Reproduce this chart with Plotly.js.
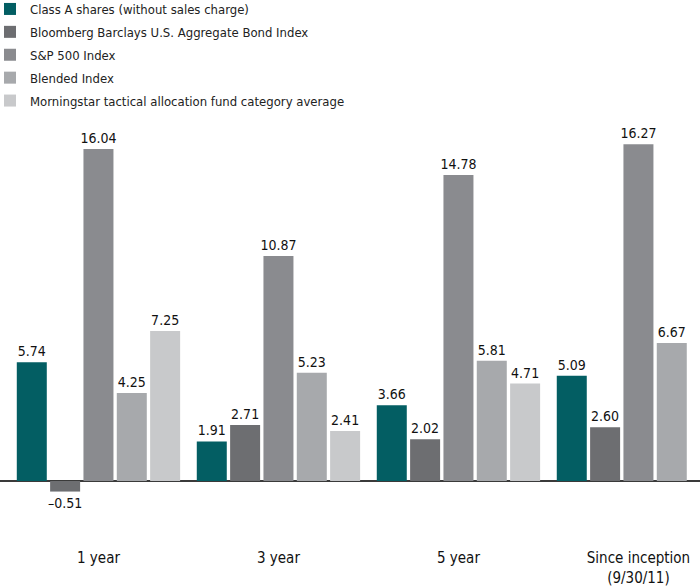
<!DOCTYPE html>
<html>
<head>
<meta charset="utf-8">
<script src="https://cdn.plot.ly/plotly-3.0.1.min.js"></script>
<style>html,body{margin:0;padding:0;background:#fff}#chart{width:700px;height:588px}</style>
</head>
<body>
<div id="chart"></div>
<script>
var categories = ['1 year', '3 year', '5 year', 'Since inception<br>(9/30/11)'];
var seriesNames = [
  'Class A shares (without sales charge)',
  'Bloomberg Barclays U.S. Aggregate Bond Index',
  'S&P 500 Index',
  'Blended Index',
  'Morningstar tactical allocation fund category average'
];
var classA     = [5.74, 1.91, 3.66, 5.09];
var bondIndex  = [-0.51, 2.71, 2.02, 2.60];
var sp500      = [16.04, 10.87, 14.78, 16.27];
var blended    = [4.25, 5.23, 5.81, 6.67];
var morningstar = [7.25, 2.41, 4.71, null];
var colors = ['#035e63', '#6d6e71', '#8a8b8f', '#a7a9ac', '#c8c9cb'];

var allSeries = [classA, bondIndex, sp500, blended, morningstar];
var FONT = '"Liberation Sans Narrow", "DejaVu Sans Condensed", Roboto, sans-serif';

var traces = allSeries.map(function (vals, i) {
  return {
    type: 'bar',
    name: seriesNames[i],
    legendgroup: 'g' + i,
    x: categories,
    y: vals,
    marker: { color: colors[i], line: { color: '#ffffff', width: 0 } },
    text: vals.map(function (v) { return v === null ? '' : v.toFixed(2).replace('-', '\u2013'); }),
    textposition: 'outside',
    constraintext: 'none',
    cliponaxis: false,
    textfont: { family: FONT, size: 14, color: '#111' },
    hoverinfo: 'x+y+name'
  };
});

var layout = {
  width: 700,
  height: 588,
  margin: { l: 0, r: 0, t: 120, b: 48, autoexpand: false },
  paper_bgcolor: '#fff',
  plot_bgcolor: '#fff',
  barmode: 'group',
  bargap: 0.074,
  bargroupgap: 0.1,
  showlegend: true,
  legend: {
    x: -0.0143, y: 1.30, xref: 'paper', yref: 'paper', xanchor: 'left', yanchor: 'top',
    orientation: 'v', traceorder: 'grouped',
    font: { family: FONT, size: 13, color: '#222' },
    bgcolor: 'rgba(0,0,0,0)', tracegroupgap: 3
  },
  xaxis: {
    type: 'category',
    range: [-0.547, 3.342],
    showgrid: false, zeroline: false, showline: false, ticks: '',
    ticklabelstandoff: 7,
    tickfont: { family: FONT, size: 15, color: '#111' },
    fixedrange: true
  },
  yaxis: {
    range: [-2.85, 17.44],
    showgrid: false, showticklabels: false, ticks: '',
    zeroline: true, zerolinecolor: '#3a3a3a', zerolinewidth: 1.5,
    showline: false, fixedrange: true
  },
  font: { family: FONT }
};

Plotly.newPlot('chart', traces, layout, { displayModeBar: false, staticPlot: true });
</script>
</body>
</html>
